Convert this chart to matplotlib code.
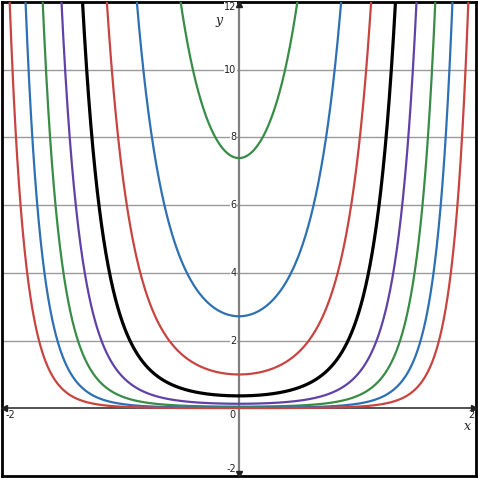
import numpy as np
import matplotlib.pyplot as plt

exposants = [2, 1, 0, -1, -2, -3, -4, -5]
courbure = 2.0
couleurs = ["#388c46", "#2d70b3", "#c74440", "#000000",
            "#6042a6", "#388c46", "#2d70b3", "#c74440"]
epaisseurs = [1.6, 1.6, 1.6, 2.3, 1.6, 1.6, 1.6, 1.6]

y_grille = [2, 4, 6, 8, 10]
y_labels = ["2", "4", "6", "8", "10", "12"]
y_vals = [2, 4, 6, 8, 10, 12]

fig = plt.figure(figsize=(4.78, 4.78), dpi=100)
ax = fig.add_axes([0.004, 0.004, 0.992, 0.992])
ax.set_xlim(-2, 2)
ax.set_ylim(-2, 12)

# grille horizontale
for yg in y_grille:
    ax.axhline(yg, color="#9a9a9a", lw=1.0, zorder=1)

# axes
ax.axvline(0, color="#808080", lw=1.6, zorder=2)
ax.axhline(0, color="#333333", lw=1.2, zorder=2)
ax.plot([-1.985], [0], marker="<", color="#222222", ms=5, clip_on=False, zorder=5)
ax.plot([1.985], [0], marker=">", color="#222222", ms=5, clip_on=False, zorder=5)
ax.plot([0], [11.93], marker="^", color="#222222", ms=5, clip_on=False, zorder=5)
ax.plot([0], [-1.93], marker="v", color="#222222", ms=5, clip_on=False, zorder=5)

# courbes
x = np.linspace(-2, 2, 2001)
for c, col, lw in zip(exposants, couleurs, epaisseurs):
    y = np.exp(c + courbure * x ** 2)
    y[y > 13] = np.nan
    ax.plot(x, y, color=col, lw=lw, zorder=3)

# étiquettes
boite = dict(facecolor="white", edgecolor="none", pad=0.3)
for v, lab in zip(y_vals, y_labels):
    yy = v - 0.15 if v == 12 else v
    ax.text(-0.02, yy, lab, ha="right", va="center", fontsize=7,
            color="#222222", bbox=boite, zorder=4)
ax.text(-0.03, -0.2, "0", ha="right", va="center", fontsize=7, color="#222222")
ax.text(-0.02, -1.8, "-2", ha="right", va="center", fontsize=7, color="#222222")
ax.text(-1.97, -0.2, "-2", ha="left", va="center", fontsize=7, color="#222222")
ax.text(1.99, -0.2, "2", ha="right", va="center", fontsize=7, color="#222222")
ax.text(1.96, -0.55, "x", ha="right", va="center", fontsize=9,
        family="DejaVu Serif", style="italic", color="#222222")
ax.text(-0.17, 11.45, "y", ha="center", va="center", fontsize=9,
        family="DejaVu Serif", style="italic", color="#222222")

ax.set_xticks([])
ax.set_yticks([])
for s in ax.spines.values():
    s.set_linewidth(2.0)
    s.set_color("black")

fig.savefig("out.png", dpi=100)
